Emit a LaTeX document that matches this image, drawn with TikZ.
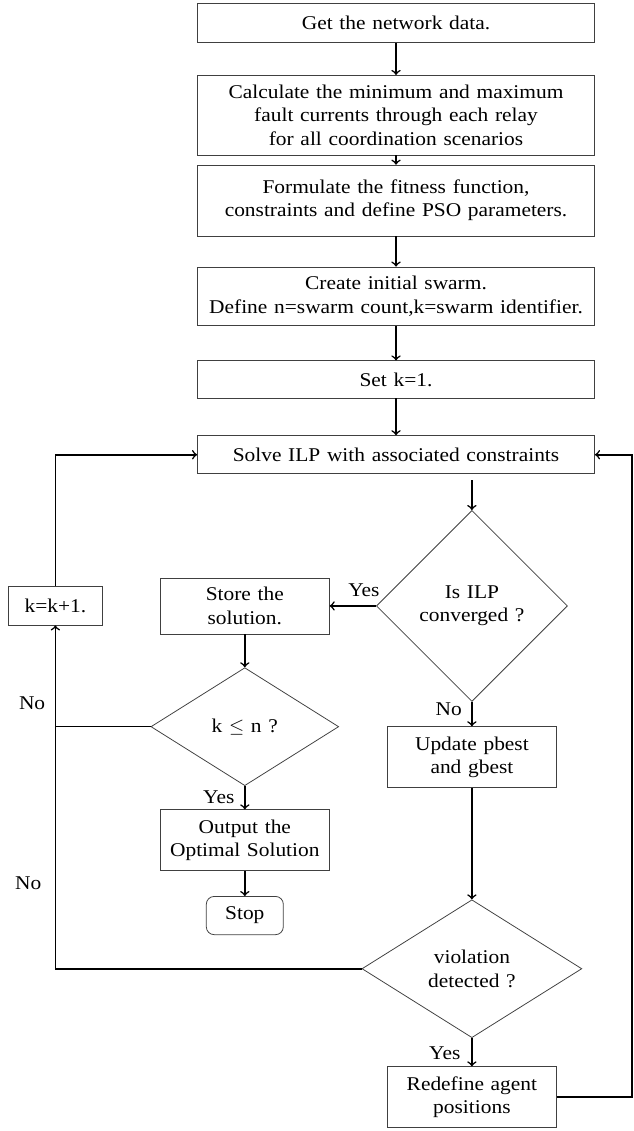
\documentclass[tikz,border=0pt]{standalone}
\usepackage{fontspec}
\setmainfont{Liberation Serif}[FakeStretch=1.1,WordSpace=1.25]
\usetikzlibrary{shapes.geometric}

\begin{document}
\begin{tikzpicture}
[
  box/.style={rectangle,draw=black!75,thin,align=center,minimum width=7.17cm},
  boxs/.style={rectangle,draw=black!75,thin,align=center,minimum width=3.05cm},
  dec/.style={diamond,draw=black!75,thin,align=center,inner sep=0pt},
  line/.style={thick},
  arr/.style={thick,->},
]
\useasboundingbox (0,0) rectangle (11.44,-20.42);

% main column
\node[box,minimum height=0.70cm] (data) at (7.15,-0.42) {Get the network data.};
\node[box,minimum height=1.44cm] (fault) at (7.15,-2.08) {Calculate the minimum and maximum\\fault currents through each relay\\for all coordination scenarios};
\node[box,minimum height=1.28cm] (fit) at (7.15,-3.62) {Formulate the fitness function,\\constraints and define PSO parameters.};
\node[box,minimum height=1.06cm] (swarm) at (7.15,-5.35) {Create initial swarm.\\Define n=swarm count,k=swarm identifier.};
\node[box,minimum height=0.67cm] (setk) at (7.15,-6.85) {Set k=1.};
\node[box,minimum height=0.69cm] (solve) at (7.15,-8.21) {Solve ILP with associated constraints};

% decisions and branches
\node[dec,minimum width=3.45cm,minimum height=3.45cm] (conv) at (8.52,-10.94) {Is ILP\\converged ?};
\node[boxs,minimum height=1.01cm] (store) at (4.42,-10.94) {Store the\\solution.};
\node[boxs,minimum width=1.68cm,minimum height=0.69cm] (incr) at (1.0,-10.94) {k=k+1.};
\node[dec,minimum width=3.39cm,minimum height=2.13cm] (kcheck) at (4.42,-13.12) {k $\leq$ n ?};
\node[boxs,minimum height=1.10cm] (out) at (4.42,-15.17) {Output the\\Optimal Solution};
\node[rectangle,rounded corners,draw=black!75,thin,minimum width=1.39cm,minimum height=0.69cm] (stop) at (4.42,-16.53) {Stop};
\node[boxs,minimum height=1.10cm] (upd) at (8.52,-13.67) {Update pbest\\and gbest};
\node[dec,minimum width=3.97cm,minimum height=2.49cm] (viol) at (8.52,-17.49) {violation\\detected ?};
\node[boxs,minimum height=1.10cm] (redef) at (8.52,-19.81) {Redefine agent\\positions};
\coordinate (rt) at (11.41,0);

% labels
\node (yes1) at (6.57,-10.65) {Yes};
\node (no1) at (8.10,-12.80) {No};
\node (no2) at (0.58,-12.69) {No};
\node (yes2) at (3.95,-14.40) {Yes};
\node (no3) at (0.51,-15.94) {No};
\node (yes3) at (8.03,-19.01) {Yes};

% connectors
\draw[arr] (data) -- (fault);
\draw[arr] (fault) -- (fit);
\draw[arr] (fit) -- (swarm);
\draw[arr] (swarm) -- (setk);
\draw[arr] (setk) -- (solve);
\draw[arr,shorten <=3pt] (solve.south -| conv.north) -- (conv.north);
\draw[arr] (conv.west) -- (store.east);
\draw[arr] (conv.south) -- (upd.north);
\draw[arr] (store) -- (kcheck);
\draw[arr] (kcheck) -- (out);
\draw[arr] (out) -- (stop);
\draw[arr] (upd) -- (viol);
\draw[arr] (viol) -- (redef);
\draw[line] (kcheck.west) -- (kcheck.west -| incr.south);
\draw[arr] (viol.west) -| (incr.south);
\draw[arr] (incr.north) |- (solve.west);
\draw[arr] (redef.east) -- (redef.east -| rt) |- (solve.east);
\end{tikzpicture}
\end{document}
